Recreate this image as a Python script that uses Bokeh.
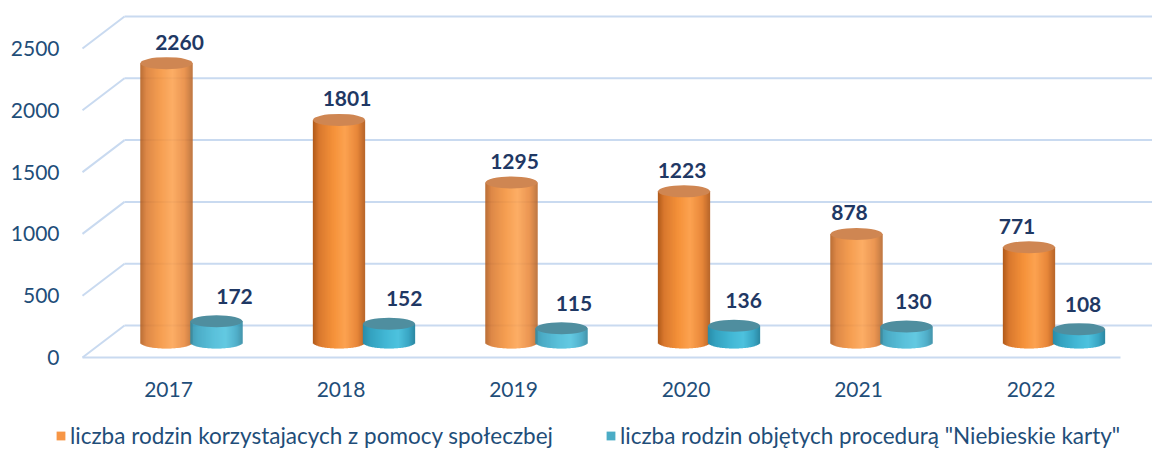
import numpy as np
from bokeh.plotting import figure
from bokeh.layouts import column
from bokeh.models import (Legend, LegendItem, FixedTicker, ColumnDataSource, Range1d)
from bokeh.core.properties import value
from bokeh.embed import file_html
from bokeh.resources import INLINE

# ---------------- data ----------------
years = ["2017", "2018", "2019", "2020", "2021", "2022"]
families_support = [2260, 1801, 1295, 1223, 878, 771]
families_blue_card = [172, 152, 115, 136, 130, 108]
series_names = [
    "liczba rodzin korzystajacych z pomocy społeczbej",
    'liczba rodzin objętych procedurą "Niebieskie karty"',
]
y_ticks = [0, 500, 1000, 1500, 2000, 2500]

# ---------------- geometry / style ----------------
W = 1152
H_MAIN, H_LEG = 405, 44
PX_CAT = 172.5            # pixels per category
PX_VAL = 309 / 2500       # pixels per value unit
FRAME_L = 78
FRAME_BOTTOM = 362        # canvas y of frame bottom
ZERO_Y = 357              # canvas y of front zero line
frame_w = W - FRAME_L
x_start = -90 / PX_CAT
x_end = x_start + frame_w / PX_CAT
y_top = ZERO_Y / PX_VAL
y_bottom = y_top - FRAME_BOTTOM / PX_VAL

DX = 42 / PX_CAT          # depth shift (back wall) in x
DY = 32 / PX_VAL          # depth shift (back wall) in y
BASE = 15 / PX_VAL        # cylinder base (mid depth)
BAR_W = 52 / PX_CAT
OFFS = [-2 / PX_CAT, 48 / PX_CAT]
ELL_H = 12                # px
N = 52                    # shading strips (about 1 px each)

TICK_COLOR = "#1F4E79"
LABEL_COLOR = "#1F3864"
GRID_COLOR = "#C9DAF0"
FONT = "Lato"

orange_stops = [(0.0, "#B05A1A"), (0.12, "#D9782E"), (0.4, "#F5923A"),
                (0.62, "#FCA250"), (0.85, "#E8873A"), (1.0, "#B8662A")]
teal_stops = [(0.0, "#2A8CA8"), (0.15, "#34A2C0"), (0.45, "#43B8D5"),
              (0.68, "#4EC2DE"), (0.88, "#3AA6C4"), (1.0, "#2C88A2")]
top_colors = ["#CF8652", "#4F8E9F"]
legend_colors = ["#F79646", "#4BACC6"]
label_dx = [(13, -5), (18, -2.8)]   # perspective-like label shift (px, px per category)
label_dy = [-21, -25]


def hex2rgb(h):
    return np.array([int(h[i:i + 2], 16) for i in (1, 3, 5)], dtype=float)


def shade(stops, t):
    for (t0, c0), (t1, c1) in zip(stops[:-1], stops[1:]):
        if t0 <= t <= t1:
            f = (t - t0) / (t1 - t0)
            c = hex2rgb(c0) * (1 - f) + hex2rgb(c1) * f
            return "#%02x%02x%02x" % tuple(int(round(v)) for v in c)
    return stops[-1][1]


p = figure(width=W, height=H_MAIN, output_backend="svg", toolbar_location=None,
           x_range=Range1d(x_start, x_end), y_range=Range1d(y_bottom, y_top),
           min_border_left=FRAME_L, min_border_right=0, min_border_top=0,
           min_border_bottom=H_MAIN - FRAME_BOTTOM)
p.frame_align = False
p.outline_line_color = None
p.xgrid.visible = False
p.ygrid.visible = False
p.background_fill_color = "white"
p.border_fill_color = "white"

# ---------------- 3D wall grid ----------------
gx_left = -86 / PX_CAT
gx_front_end = 952 / PX_CAT
xs, ys = [], []
for v in y_ticks:
    xs.append([gx_left + DX, x_end])
    ys.append([v + DY, v + DY])
    xs.append([gx_left, gx_left + DX])
    ys.append([v, v + DY])
xs.append([gx_left, gx_front_end])
ys.append([0, 0])
p.multi_line(xs, ys, line_color=GRID_COLOR, line_width=2)

# ---------------- cylinders ----------------
cat_x = np.arange(len(years), dtype=float)
for s, (vals, stops) in enumerate([(families_support, orange_stops),
                                    (families_blue_card, teal_stops)]):
    vals = np.array(vals, dtype=float)
    cx = cat_x + OFFS[s]
    for k in range(N):
        t = (k + 0.5) / N
        u = 2 * t - 1
        drop = (ELL_H / 2) / PX_VAL * np.sqrt(max(0.0, 1 - u * u))
        src = ColumnDataSource(dict(x=cx - BAR_W / 2 + t * BAR_W,
                                    top=BASE + vals,
                                    bottom=np.full(len(vals), BASE - drop)))
        p.vbar(x="x", top="top", bottom="bottom", width=BAR_W / N * 1.3,
               source=src, fill_color=shade(stops, t), line_color=None)
    p.ellipse(x=cx, y=BASE + vals, width=BAR_W, height=ELL_H,
              height_units="screen", fill_color=top_colors[s], line_color=None)
    a, b = label_dx[s]
    lsrc = ColumnDataSource(dict(x=cx, y=BASE + vals,
                                 text=[str(int(v)) for v in vals],
                                 dx=a + b * cat_x))
    p.text(x="x", y="y", text="text", x_offset="dx", source=lsrc,
           text_font=value(FONT), text_font_style="bold",
           text_font_size="21px", text_color=LABEL_COLOR,
           text_align="center", text_baseline="middle", y_offset=label_dy[s])

# ---------------- axes ----------------
p.yaxis.ticker = FixedTicker(ticks=y_ticks)
p.yaxis.axis_line_color = None
p.yaxis.major_tick_line_color = None
p.yaxis.minor_tick_line_color = None
p.yaxis.major_label_standoff = 13
p.yaxis.major_label_text_font = FONT
p.yaxis.major_label_text_font_size = "21px"
p.yaxis.major_label_text_color = TICK_COLOR

p.xaxis.ticker = FixedTicker(ticks=list(cat_x))
p.xaxis.major_label_overrides = {float(i): y for i, y in enumerate(years)}
p.xaxis.axis_line_color = None
p.xaxis.major_tick_line_color = None
p.xaxis.minor_tick_line_color = None
p.xaxis.major_label_standoff = 13
p.xaxis.major_label_text_font = FONT
p.xaxis.major_label_text_font_size = "21px"
p.xaxis.major_label_text_color = TICK_COLOR

# ---------------- legend (own strip below the chart) ----------------
pl = figure(width=W, height=H_LEG, output_backend="svg", toolbar_location=None,
            x_axis_location=None, y_axis_location=None,
            min_border_left=0, min_border_right=0, min_border_top=0, min_border_bottom=0,
            x_range=Range1d(0, 1), y_range=Range1d(0, 1))
pl.frame_align = False
pl.outline_line_color = None
pl.xgrid.visible = False
pl.ygrid.visible = False
# swatch renderers: one off-screen square each, only used to style the legend glyphs
swatches = [pl.quad(left=[-3], right=[-2], bottom=[-3], top=[-2],
                    fill_color=c, line_color=None) for c in legend_colors]
legend = Legend(items=[LegendItem(label=series_names[i], renderers=[swatches[i]])
                       for i in range(2)],
                orientation="horizontal", location=(55, 0),
                label_text_font=FONT, label_text_font_size="22.5px",
                label_text_color=TICK_COLOR, glyph_width=11, glyph_height=11,
                label_standoff=4, spacing=52, padding=0, margin=0,
                border_line_color=None, background_fill_alpha=0)
pl.add_layout(legend)

layout = column(p, pl, spacing=0)
open("out.html", "w").write(file_html(layout, INLINE))
